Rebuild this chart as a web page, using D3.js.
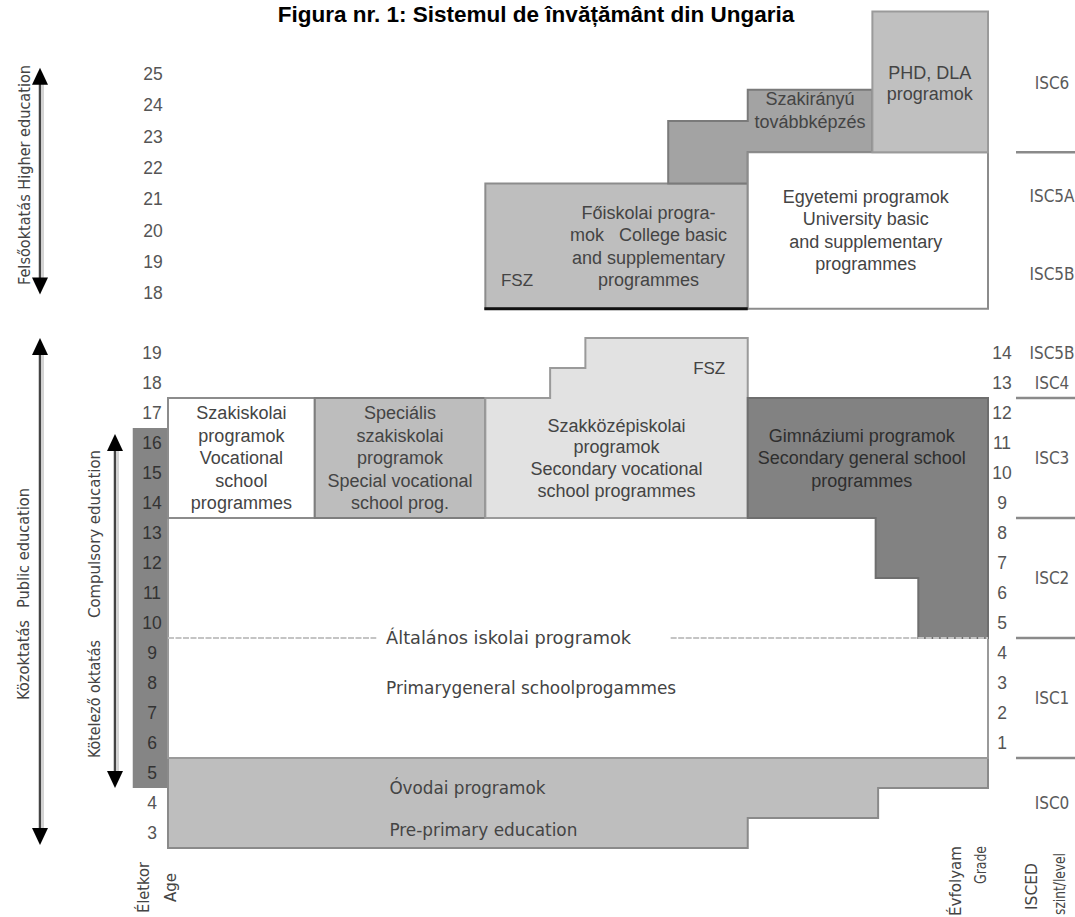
<!DOCTYPE html>
<html><head><meta charset="utf-8">
<script src="https://cdn.jsdelivr.net/npm/d3@7"></script>
<style>body{margin:0;background:#fff}svg{display:block}text{white-space:pre}</style>
</head><body><svg id="c" width="1075" height="917"></svg>
<script>
// ---------------- DATA ----------------
const title = "Figura nr. 1: Sistemul de învățământ din Ungaria";
const upperAges = [18, 19, 20, 21, 22, 23, 24, 25];
const lowerAges = [3, 4, 5, 6, 7, 8, 9, 10, 11, 12, 13, 14, 15, 16, 17, 18, 19];
const compulsoryAges = [5, 16];
const grades = [1, 2, 3, 4, 5, 6, 7, 8, 9, 10, 11, 12, 13, 14];
const gradeStartAge = 6;
const upperIsced = [{label: "ISC6", age: 24.7}, {label: "ISC5A", age: 21.1}, {label: "ISC5B", age: 18.6}];
const upperIscedBreaks = [22.5];
const lowerIsced = [{label: "ISC5B", age: 19}, {label: "ISC4", age: 18}, {label: "ISC3", age: 15.5},
                    {label: "ISC2", age: 11.5}, {label: "ISC1", age: 7.5}, {label: "ISC0", age: 4}];
const lowerIscedBreaks = [17.5, 13.5, 9.5, 5.5];

// programme blocks: columns [trackFrom, trackTo, ageFrom, ageTo] (track axis 0-100, age band edges)
const higherProgrammes = [
  {id: "college",    cols: [[38.7, 70.7, 17.5, 21.5]]},
  {id: "szak",       cols: [[61.0, 70.7, 21.5, 23.5], [70.7, 85.9, 22.5, 24.5]]},
  {id: "university", cols: [[70.7, 100, 17.5, 22.5]]},
  {id: "phd",        cols: [[85.9, 100, 22.5, 27]]}
];
const publicProgrammes = [
  {id: "preprimary", cols: [[0, 70.7, 2.5, 5.5], [70.7, 86.6, 3.5, 5.5], [86.6, 100, 4.5, 5.5]]},
  {id: "primary",    cols: [[0, 100, 5.5, 13.5]]},
  {id: "vocational", cols: [[0, 17.9, 13.5, 17.5]]},
  {id: "special",    cols: [[17.9, 38.7, 13.5, 17.5]]},
  {id: "secvoc",     cols: [[38.7, 46.6, 13.5, 17.5], [46.6, 50.9, 13.5, 18.5], [50.9, 70.7, 13.5, 19.5]]},
  {id: "gim",        cols: [[70.7, 86.3, 13.5, 17.5], [86.3, 91.5, 11.5, 17.5], [91.5, 100, 9.5, 17.5]]}
];

const labels = {
  college:    ["Főiskolai progra-", "mok   College basic", "and supplementary", "programmes"],
  university: ["Egyetemi programok", "University basic", "and supplementary", "programmes"],
  szak:       ["Szakirányú", "továbbképzés"],
  phd:        ["PHD, DLA", "programok"],
  vocational: ["Szakiskolai", "programok", "Vocational", "school", "programmes"],
  special:    ["Speciális", "szakiskolai", "programok", "Special vocational", "school prog."],
  secvoc:     ["Szakközépiskolai", "programok", "Secondary vocational", "school programmes"],
  gim:        ["Gimnáziumi programok", "Secondary general school", "programmes"],
  primary:    ["Általános iskolai programok", "Primarygeneral schoolprogammes"],
  preprimary: ["Óvodai programok", "Pre-primary education"]
};
const fszLabel = "FSZ";

// ---------------- LAYOUT / STYLE ----------------
const svg = d3.select("#c");
const x = d3.scaleLinear().domain([0, 100]).range([168, 988]);
const yU = d3.scaleLinear().domain([18, 25]).range([293, 74]);
const yL = d3.scaleLinear().domain([3, 19]).range([833, 353]);

const fills = {college: "#bebebe", szak: "#a3a3a3", university: "#ffffff", phd: "#c0c0c0",
  preprimary: "#bebebe", primary: "#ffffff", vocational: "#ffffff", special: "#bdbdbd",
  secvoc: "#e2e2e2", gim: "#828282"};
const strokes = {college: "#8c8c8c", szak: "#7a7a7a", university: "#8c8c8c", phd: "#9a9a9a",
  preprimary: "#8a8a8a", primary: "#9a9a9a", vocational: "#8c8c8c", special: "#7e7e7e",
  secvoc: "#9a9a9a", gim: "#6e6e6e"};
const FONT = "'Liberation Sans', Arial, sans-serif";
const NARROW = "'Liberation Sans Narrow', 'DejaVu Sans Condensed', 'Liberation Sans', sans-serif";
const TXT = "#444";

function blockPath(cols, y) {
  const c = cols.slice().sort((a, b) => a[0] - b[0]);
  let p = `M${x(c[0][0])},${y(c[0][3])}`;
  c.forEach((col, i) => { p += `H${x(col[1])}`; if (i < c.length - 1) p += `V${y(c[i + 1][3])}`; });
  p += `V${y(c[c.length - 1][2])}`;
  for (let i = c.length - 1; i >= 0; i--) { p += `H${x(c[i][0])}`; if (i > 0) p += `V${y(c[i - 1][2])}`; }
  return p + "Z";
}

// compulsory column
svg.append("rect").attr("x", x(-4.3)).attr("width", x(0) - x(-4.3))
  .attr("y", yL(compulsoryAges[1] + 0.5)).attr("height", yL(compulsoryAges[0] - 0.5) - yL(compulsoryAges[1] + 0.5))
  .attr("fill", "#858585");

// blocks
function drawBlocks(list, y) {
  svg.append("g").selectAll("path").data(list).join("path")
    .attr("d", d => blockPath(d.cols, y))
    .attr("fill", d => fills[d.id]).attr("stroke", d => strokes[d.id]).attr("stroke-width", 2);
}
drawBlocks(publicProgrammes, yL);
drawBlocks(higherProgrammes, yU);

// title (drawn after blocks)
svg.append("text").attr("x", 536).attr("y", 22).attr("text-anchor", "middle")
  .style("font", `bold 22.5px ${FONT}`).attr("fill", "#000").text(title);

// thick black base of college block
const col = higherProgrammes[0].cols[0];
svg.append("line").attr("x1", x(col[0]) - 1).attr("x2", x(col[1])).attr("y1", yU(col[2])).attr("y2", yU(col[2]))
  .attr("stroke", "#111").attr("stroke-width", 3);

// dashed line in primary
[[0, 25.4], [61.3, 100]].forEach(s => {
  svg.append("line").attr("x1", x(s[0])).attr("x2", x(s[1])).attr("y1", yL(9.5)).attr("y2", yL(9.5))
    .attr("stroke", "#c4c4c4").attr("stroke-width", 2.2).attr("stroke-dasharray", "6,1.5");
});

// block labels
function stack(lines, cx, cy, lh, opts = {}) {
  const t = svg.append("text").attr("text-anchor", opts.anchor || "middle")
    .style("font", `${opts.size || 18}px ${opts.family || FONT}`).attr("fill", opts.fill || TXT);
  const n = lines.length;
  lines.forEach((s, i) => {
    const tt = t.append("tspan").attr("x", cx).attr("y", cy + (i - (n - 1) / 2) * lh).attr("dy", "0.35em").text(s);
    if (opts.lengths && opts.lengths[i]) tt.attr("textLength", opts.lengths[i]).attr("lengthAdjust", "spacingAndGlyphs");
  });
  return t;
}
stack(labels.college, x(58.6), yU(19.5), 22.5);
svg.append("text").attr("x", x(40.6)).attr("y", yU(18.4)).attr("dy", "0.35em")
  .style("font", `17px ${FONT}`).attr("fill", TXT).text(fszLabel);
stack(labels.university, x(85.1), yU(20.0), 22.5);
stack(labels.szak, x(78.3), yU(23.85), 23.5);
stack(labels.phd, x(92.9), yU(24.7), 21.5);

stack(labels.vocational, x(8.95), yL(15.5), 22.5);
stack(labels.special, x(28.3), yL(15.5), 22.5);
stack(labels.secvoc, x(54.7), yL(15.5), 21.8);
svg.append("text").attr("x", x(66.0)).attr("y", yL(18.5)).attr("dy", "0.35em").attr("text-anchor", "middle")
  .style("font", `17px ${FONT}`).attr("fill", TXT).text(fszLabel);
stack(labels.gim, x(84.6), yL(15.5), 22.5, {fill: "#2e2e2e"});

stack(labels.primary, x(26.6), yL(9.5) + 25, 50, {anchor: "start", family: NARROW, size: 18, lengths: [245, 290]});
stack(labels.preprimary, x(27.0), yL(3.8), 42, {anchor: "start", family: NARROW, size: 18, lengths: [156, 188]});

// age numbers
svg.append("g").selectAll("text").data(upperAges).join("text")
  .attr("x", 153).attr("y", d => yU(d)).attr("dy", "0.35em").attr("text-anchor", "middle")
  .style("font", `17.5px ${FONT}`).attr("fill", "#555").text(d => d);
svg.append("g").selectAll("text").data(lowerAges).join("text")
  .attr("x", 152).attr("y", d => yL(d)).attr("dy", "0.35em").attr("text-anchor", "middle")
  .style("font", `17.5px ${FONT}`)
  .attr("fill", d => (d >= compulsoryAges[0] && d <= compulsoryAges[1]) ? "#333" : "#555").text(d => d);

// grade numbers
svg.append("g").selectAll("text").data(grades).join("text")
  .attr("x", 1002).attr("y", d => yL(d + gradeStartAge - 1)).attr("dy", "0.35em").attr("text-anchor", "middle")
  .style("font", `17.5px ${FONT}`).attr("fill", "#555").text(d => d);

// ISCED labels and separators
function isced(list, breaks, y) {
  svg.append("g").selectAll("text").data(list).join("text")
    .attr("x", 1052).attr("y", d => y(d.age)).attr("dy", "0.35em").attr("text-anchor", "middle")
    .style("font", `17px ${NARROW}`).attr("fill", "#5a5a5a").text(d => d.label);
  svg.append("g").selectAll("line").data(breaks).join("line")
    .attr("x1", 1016).attr("x2", 1075).attr("y1", d => y(d)).attr("y2", d => y(d))
    .attr("stroke", "#8a8a8a").attr("stroke-width", 2.5);
}
isced(upperIsced, upperIscedBreaks, yU);
isced(lowerIsced, lowerIscedBreaks, yL);

// arrows
function arrow(px, y1, y2) {
  const g = svg.append("g");
  g.append("line").attr("x1", px + 3).attr("x2", px + 3).attr("y1", y1 + 12).attr("y2", y2 - 12)
    .attr("stroke", "#d4d4d4").attr("stroke-width", 2);
  g.append("line").attr("x1", px).attr("x2", px).attr("y1", y1 + 12).attr("y2", y2 - 12)
    .attr("stroke", "#444").attr("stroke-width", 2.5);
  g.append("path").attr("d", `M${px},${y1}L${px - 8},${y1 + 17}L${px + 8},${y1 + 17}Z`).attr("fill", "#000");
  g.append("path").attr("d", `M${px},${y2}L${px - 8},${y2 - 17}L${px + 8},${y2 - 17}Z`).attr("fill", "#000");
}
arrow(40, yU(25.2), yU(17.95));
arrow(40, yL(19.5), yL(2.6));
arrow(115, yL(16.3), yL(4.5));

function vtext(s, cx, cy, len, anchor = "middle", size = 16) {
  svg.append("text").attr("transform", `translate(${cx},${cy}) rotate(-90)`)
    .attr("text-anchor", anchor).attr("dy", "0.35em")
    .style("font", `${size}px ${NARROW}`).attr("fill", "#444")
    .attr("textLength", len).attr("lengthAdjust", "spacingAndGlyphs").text(s);
}
vtext("Felsőoktatás Higher education", 24, 175, 220);
vtext("Public education", 23, 548, 120);
vtext("Közoktatás", 23, 660, 80);
vtext("Compulsory education", 94, 534, 168);
vtext("Kötelező oktatás", 94, 699, 118);
vtext("Életkor", 143, 913, 51, "start");
vtext("Age", 170, 902, 29, "start");
vtext("Évfolyam", 955, 846, 70, "end");
vtext("Grade", 980, 846, 38, "end");
vtext("ISCED", 1031, 910, 47, "start");
vtext("szint/level", 1059, 915, 62, "start");
</script></body></html>
